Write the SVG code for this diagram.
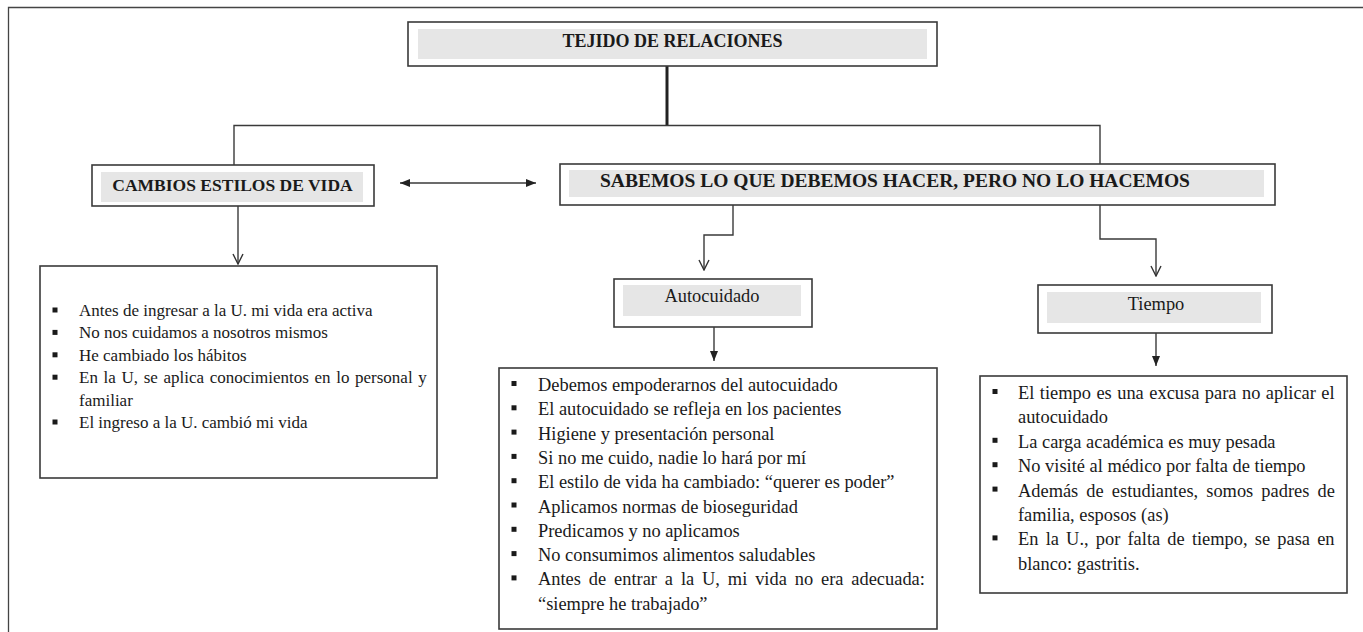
<svg xmlns="http://www.w3.org/2000/svg" width="1363" height="632" viewBox="0 0 1363 632">
<style>
.frame{fill:none;stroke:#444;stroke-width:1.3}
.box{fill:#fff;stroke:#3a3a3a;stroke-width:1.6}
.shade{fill:#e6e6e6}
.hdr{font-family:"Liberation Serif","Times New Roman",serif;font-weight:bold;fill:#1a1a1a}
.txt{font-family:"Liberation Serif","Times New Roman",serif;font-size:18.4px;fill:#1a1a1a}
.sm{font-size:17px}
.bul{fill:#1a1a1a}
.ln{fill:none;stroke:#3a3a3a;stroke-width:1.4}
</style>
<defs>
<marker id="open" viewBox="0 0 12 12" markerWidth="12" markerHeight="12" refX="11" refY="6" orient="auto" markerUnits="userSpaceOnUse">
<path d="M1,1 L11,6 L1,11" fill="none" stroke="#333" stroke-width="1.4"/>
</marker>
<marker id="fill" viewBox="0 0 10 8" markerWidth="10" markerHeight="8" refX="10" refY="4" orient="auto-start-reverse" markerUnits="userSpaceOnUse">
<path d="M0,0 L10,4 L0,8 z" fill="#222"/>
</marker>
</defs>
<path class="frame" d="M8.5,632 V7.5 H1363"/>
<g id="connectors">
<line x1="667" y1="66" x2="667" y2="125" stroke="#222" stroke-width="3"/>
<path class="ln" d="M234,165 V125.5 H1100 V164"/>
<path class="ln" d="M238,206 V264" marker-end="url(#open)"/>
<path class="ln" d="M400,183 H536" marker-start="url(#fill)" marker-end="url(#fill)"/>
<path class="ln" d="M733,205 V235 H704 V270" marker-end="url(#open)"/>
<path class="ln" d="M1100,205 V239 H1156 V276" marker-end="url(#open)"/>
<path class="ln" d="M714,327 V361" marker-end="url(#fill)"/>
<path class="ln" d="M1156,333 V366" marker-end="url(#fill)"/>
</g>
<g id="title">
<rect class="box" x="408" y="22" width="529" height="44"/>
<rect class="shade" x="418" y="29" width="509" height="30"/>
<text class="hdr" x="672.5" y="47" font-size="18" text-anchor="middle">TEJIDO DE RELACIONES</text>
</g>
<g id="cambios">
<rect class="box" x="92" y="165" width="282" height="41"/>
<rect class="shade" x="101" y="172" width="262" height="30"/>
<text class="hdr" x="232.5" y="191" font-size="17.5" text-anchor="middle">CAMBIOS ESTILOS DE VIDA</text>
</g>
<g id="sabemos">
<rect class="box" x="560" y="164" width="715" height="41"/>
<rect class="shade" x="569" y="170" width="695" height="27"/>
<text class="hdr" x="600" y="187" font-size="19.5">SABEMOS LO QUE DEBEMOS HACER, PERO NO LO HACEMOS</text>
</g>
<g id="autocuidado">
<rect class="box" x="614" y="279" width="198" height="48"/>
<rect class="shade" x="623" y="285" width="178" height="31"/>
<text class="txt" x="712" y="302" text-anchor="middle">Autocuidado</text>
</g>
<g id="tiempo">
<rect class="box" x="1038" y="285" width="234" height="48"/>
<rect class="shade" x="1047" y="292" width="214" height="31"/>
<text class="txt" x="1156" y="310" text-anchor="middle">Tiempo</text>
</g>
<g id="lista-cambios">
<rect class="box" x="40" y="266" width="397" height="212"/>
<rect class="bul" x="52.5" y="307.5" width="5" height="5"/>
<rect class="bul" x="52.5" y="329.9" width="5" height="5"/>
<rect class="bul" x="52.5" y="352.3" width="5" height="5"/>
<rect class="bul" x="52.5" y="374.7" width="5" height="5"/>
<rect class="bul" x="52.5" y="419.5" width="5" height="5"/>
<text class="txt sm" x="79" y="316">Antes de ingresar a la U. mi vida era activa</text>
<text class="txt sm" x="79" y="338.4">No nos cuidamos a nosotros mismos</text>
<text class="txt sm" x="79" y="360.8">He cambiado los hábitos</text>
<text class="txt sm" x="79" y="383.2" word-spacing="1.4">En la U, se aplica conocimientos en lo personal y</text>
<text class="txt sm" x="79" y="405.6">familiar</text>
<text class="txt sm" x="79" y="428">El ingreso a la U. cambió mi vida</text>
</g>
<g id="lista-autocuidado">
<rect class="box" x="499" y="368" width="438" height="261"/>
<rect class="bul" x="511.5" y="381" width="5" height="5"/>
<rect class="bul" x="511.5" y="405.3" width="5" height="5"/>
<rect class="bul" x="511.5" y="429.6" width="5" height="5"/>
<rect class="bul" x="511.5" y="453.9" width="5" height="5"/>
<rect class="bul" x="511.5" y="478.2" width="5" height="5"/>
<rect class="bul" x="511.5" y="502.5" width="5" height="5"/>
<rect class="bul" x="511.5" y="526.8" width="5" height="5"/>
<rect class="bul" x="511.5" y="551.1" width="5" height="5"/>
<rect class="bul" x="511.5" y="575.4" width="5" height="5"/>
<text class="txt" x="538" y="391">Debemos empoderarnos del autocuidado</text>
<text class="txt" x="538" y="415.3">El autocuidado se refleja en los pacientes</text>
<text class="txt" x="538" y="439.6">Higiene y presentación personal</text>
<text class="txt" x="538" y="463.9">Si no me cuido, nadie lo hará por mí</text>
<text class="txt" x="538" y="488.2">El estilo de vida ha cambiado: “querer es poder”</text>
<text class="txt" x="538" y="512.5">Aplicamos normas de bioseguridad</text>
<text class="txt" x="538" y="536.8">Predicamos y no aplicamos</text>
<text class="txt" x="538" y="561.1">No consumimos alimentos saludables</text>
<text class="txt" x="538" y="585.4" word-spacing="3.3">Antes de entrar a la U, mi vida no era adecuada:</text>
<text class="txt" x="538" y="609.7">“siempre he trabajado”</text>
</g>
<g id="lista-tiempo">
<rect class="box" x="980" y="376" width="367" height="217"/>
<rect class="bul" x="992.5" y="389" width="5" height="5"/>
<rect class="bul" x="992.5" y="437.8" width="5" height="5"/>
<rect class="bul" x="992.5" y="462.2" width="5" height="5"/>
<rect class="bul" x="992.5" y="486.6" width="5" height="5"/>
<rect class="bul" x="992.5" y="535.4" width="5" height="5"/>
<text class="txt" x="1018" y="399" word-spacing="0.9">El tiempo es una excusa para no aplicar el</text>
<text class="txt" x="1018" y="423.4">autocuidado</text>
<text class="txt" x="1018" y="447.8">La carga académica es muy pesada</text>
<text class="txt" x="1018" y="472.2">No visité al médico por falta de tiempo</text>
<text class="txt" x="1018" y="496.6" word-spacing="3.5">Además de estudiantes, somos padres de</text>
<text class="txt" x="1018" y="521">familia, esposos (as)</text>
<text class="txt" x="1018" y="545.4" word-spacing="2.6">En la U., por falta de tiempo, se pasa en</text>
<text class="txt" x="1018" y="569.8">blanco: gastritis.</text>
</g>
</svg>
